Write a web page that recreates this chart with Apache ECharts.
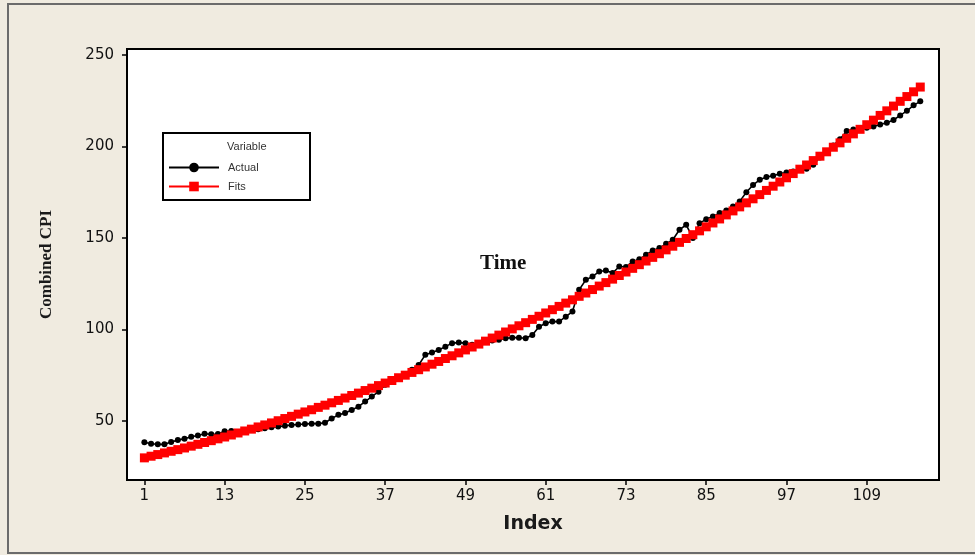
<!DOCTYPE html>
<html><head><meta charset="utf-8">
<script src="https://cdn.jsdelivr.net/npm/echarts@6/dist/echarts.min.js"></script>
<style>html,body{margin:0;padding:0;background:#f0ebe0;}#c{width:975px;height:555px;}</style>
</head><body><div id="c"></div>
<script>
// Index 1..117
const actual = [38.3,37.5,37.2,37.2,38.5,39.5,40.3,41.3,42.0,43.0,
 42.7,42.8,44.3,44.5,44.0,44.8,45.3,45.5,46.0,46.5,
 46.9,47.3,47.8,48.0,48.3,48.5,48.5,49.0,51.3,53.3,
 54.3,56.0,57.8,60.6,63.3,66.0,69.7,71.5,73.3,75.2,
 77.9,80.6,86.1,87.4,88.8,90.6,92.5,92.8,92.5,91.6,
 92.5,93.5,94.0,94.3,95.2,95.5,95.5,95.2,97.0,101.5,
 103.4,104.3,104.3,107.0,109.8,121.7,127.1,128.9,131.7,132.2,
 130.8,134.4,134.1,137.2,138.4,140.8,143.2,144.5,146.8,149.0,
 154.5,157.2,150.0,158.0,160.3,161.8,163.6,165.0,167.2,170.0,
 175.0,179.0,181.8,183.3,184.0,185.1,185.8,186.4,187.3,187.9,
 190.0,194.0,197.5,200.5,204.0,208.5,209.3,209.8,210.3,211.0,
 212.0,213.0,214.5,217.0,219.5,222.5,224.7];
const fits = [29.8,30.7,31.6,32.5,33.4,34.3,35.2,36.2,37.2,38.2,
 39.2,40.2,41.2,42.3,43.4,44.5,45.5,46.7,47.8,48.9,
 50.1,51.3,52.5,53.7,54.9,56.1,57.4,58.6,59.9,61.2,
 62.5,63.9,65.2,66.6,67.9,69.3,70.7,72.1,73.6,75.0,
 76.5,78.0,79.5,81.0,82.5,84.1,85.6,87.2,88.8,90.4,
 92.0,93.6,95.3,96.9,98.6,100.3,102.0,103.7,105.5,107.2,
 109.0,110.8,112.6,114.4,116.2,118.1,119.9,121.8,123.7,125.6,
 127.5,129.5,131.4,133.4,135.4,137.4,139.4,141.4,143.5,145.5,
 147.6,149.7,151.8,153.9,156.1,158.2,160.4,162.6,164.8,167.0,
 169.2,171.4,173.7,176.0,178.3,180.6,182.9,185.2,187.6,189.9,
 192.3,194.7,197.1,199.6,202.0,204.5,206.9,209.4,211.9,214.4,
 217.0,219.5,222.1,224.7,227.3,229.9,232.5];
const xTicks = [1,13,25,37,49,61,73,85,97,109];
const yTicks = [50,100,150,200,250];
const seriesNames = ['Actual','Fits'];
const legendTitle = 'Variable';
const xTitle = 'Index';
const yTitle = 'Combined CPI';
const noteText = 'Time';

const toPts = arr => arr.map((v, i) => [i + 1, v]);
const labelFont = "'DejaVu Sans', sans-serif";

const chart = echarts.init(document.getElementById('c'));
chart.setOption({
  backgroundColor: '#f0ebe0',
  animation: false,
  grid: {left: 127, right: 36, top: 49, bottom: 75, show: true, backgroundColor: '#ffffff', borderColor: '#000', borderWidth: 2},
  xAxis: {
    type: 'value', min: -1.6, max: 119.8,
    name: xTitle, nameLocation: 'middle', nameGap: 35,
    nameTextStyle: {fontFamily: labelFont, fontWeight: 'bold', fontSize: 19, color: '#1a1a1a'},
    axisLine: {show: true, onZero: false, lineStyle: {color: '#000', width: 2}},
    splitLine: {show: false},
    axisTick: {show: true, customValues: xTicks, length: 5, lineStyle: {color: '#000', width: 1.5}},
    axisLabel: {customValues: xTicks, margin: 9, fontSize: 15, fontFamily: labelFont, color: '#111'}
  },
  yAxis: {
    type: 'value', min: 17.7, max: 253.3,
    name: yTitle, nameLocation: 'middle', nameGap: 72,
    nameTextStyle: {fontFamily: "'Liberation Serif', serif", fontWeight: 'bold', fontSize: 17, color: '#1a1a1a'},
    axisLine: {show: true, onZero: false, lineStyle: {color: '#000', width: 2}},
    splitLine: {show: false},
    axisTick: {show: true, customValues: yTicks, length: 5, lineStyle: {color: '#000', width: 1.5}},
    axisLabel: {customValues: yTicks, margin: 13, fontSize: 15, fontFamily: labelFont, color: '#111'}
  },
  legend: {
    data: seriesNames, orient: 'vertical', left: 168, top: 162, padding: 0,
    itemWidth: 50, itemHeight: 12, itemGap: 8,
    textStyle: {fontSize: 11, fontFamily: "'Liberation Sans', sans-serif", color: '#333', padding: [0, 0, 0, 4]},
    z: 6
  },
  graphic: [
    {type: 'rect', shape: {x: 8, y: 4, width: 1000, height: 549}, style: {fill: 'none', stroke: '#6b6b6b', lineWidth: 2}, z: 1},
    {type: 'rect', shape: {x: 163, y: 133, width: 147, height: 67}, style: {fill: '#ffffff', stroke: '#000', lineWidth: 2}, z: 3},
    {type: 'text', x: 227, y: 147, style: {text: legendTitle, fontSize: 11, fontFamily: "'Liberation Sans', sans-serif", fill: '#333', verticalAlign: 'middle'}, z: 5},
    {type: 'text', x: 480, y: 264, style: {text: noteText, fontSize: 21, fontWeight: 'bold', fontFamily: "'Liberation Serif', serif", fill: '#111', verticalAlign: 'middle'}, z: 5}
  ],
  series: [
    {name: seriesNames[0], type: 'line', data: toPts(actual), symbol: 'circle', symbolSize: 6,
     lineStyle: {color: '#000', width: 1.6}, itemStyle: {color: '#000'}, z: 2},
    {name: seriesNames[1], type: 'line', data: toPts(fits), symbol: 'rect', symbolSize: 9,
     lineStyle: {color: '#ff0000', width: 1.5}, itemStyle: {color: '#ff0000'}, z: 3}
  ]
});
</script>
</body></html>
